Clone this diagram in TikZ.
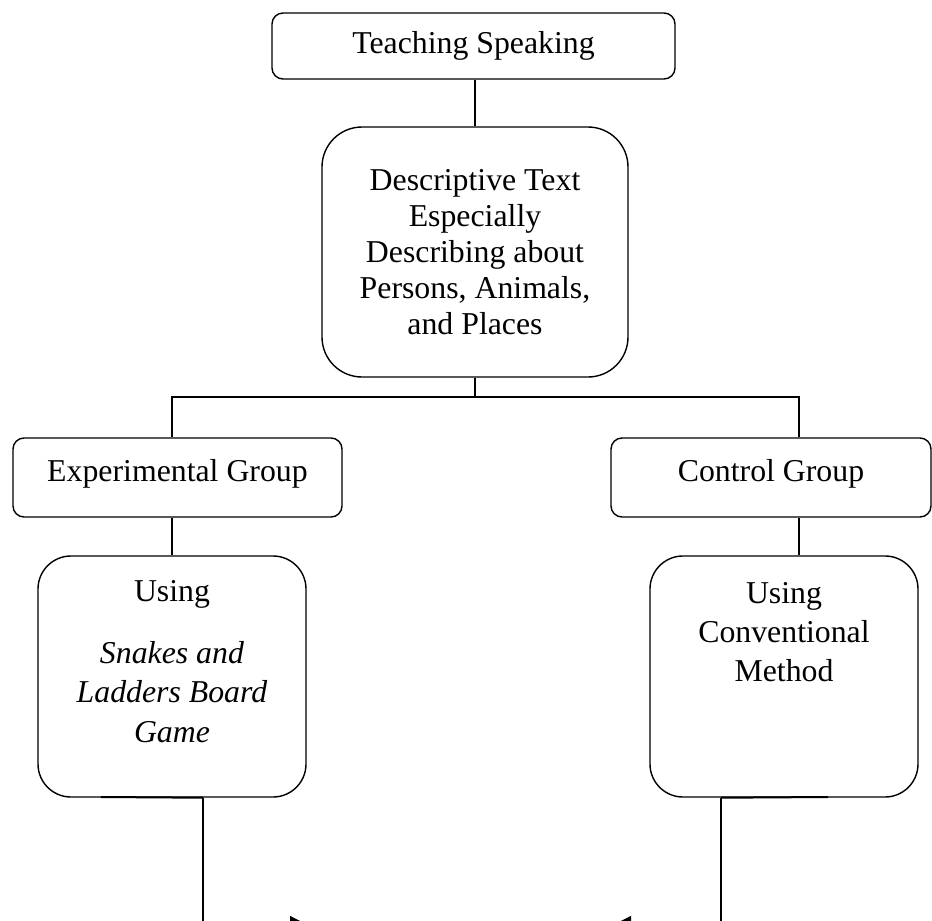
\documentclass[tikz,border=0pt]{standalone}
\usepackage{fontspec}
\setmainfont{Liberation Serif}
\usetikzlibrary{arrows.meta, positioning}

\begin{document}
\begin{tikzpicture}[x=1pt, y=-1pt, font=\fontsize{31.8}{36}\selectfont]
  % Styles for boxes and lines
  \tikzset{smallbox/.style={draw, line width=1.4pt, rounded corners=11pt, inner sep=0pt}}
  \tikzset{bigbox/.style={draw, line width=1.4pt, rounded corners=33pt, inner sep=0pt}}
  \tikzset{link/.style={draw, line width=1.2pt}}
  \tikzset{tip/.style={-{Triangle[length=18pt, width=18pt]}}}

  \useasboundingbox (0,0) rectangle (932,921);
  \clip (0,0) rectangle (932,921);

  % Top boxes
  \node[smallbox, minimum width=403pt, minimum height=66pt] (teach) at (473.5,46) {Teaching Speaking};
  \node[bigbox, rounded corners=40pt, minimum width=306pt, minimum height=250pt, align=center] (desc) at (475,252)
    {Descriptive Text\\Especially\\Describing about\\Persons, Animals,\\and Places};

  % Groups
  \node[smallbox, text depth=15pt, minimum width=329pt, minimum height=79pt] (expg) at (177.5,477.5) {Experimental Group};
  \node[smallbox, text depth=15pt, minimum width=320pt, minimum height=79pt] (ctrl) at (771,477.5) {Control Group};

  % Methods
  \node[bigbox, minimum width=268pt, minimum height=241pt] (lbox) at (172,676.5) {};
  \node[bigbox, minimum width=268pt, minimum height=241pt] (rbox) at (784,676.5) {};
  \node[below=25pt of lbox.north, align=center, inner sep=0pt, font=\fontsize{31.8}{39.5}\selectfont] (ltext)
    {Using\\[22pt]\textit{Snakes and}\\\textit{Ladders Board}\\\textit{Game}};
  \node[below=27pt of rbox.north, align=center, inner sep=0pt, font=\fontsize{31.8}{39}\selectfont] (rtext)
    {Using\\Conventional\\Method};

  % Connectors
  \coordinate (jn) at (475,397);
  \coordinate (rcol) at (799,397);
  \draw[link] (desc.north |- teach.south) -- (desc.north);
  \draw[link] (desc.south) -- (jn);
  \draw[link] (jn) -| (lbox.north |- expg.north);
  \draw[link] (jn) -- (rcol) -- (rcol |- ctrl.north);
  \draw[link] (expg.south -| lbox.north) -- (lbox.north);
  \draw[link] (ctrl.south -| rcol) -- (rcol |- rbox.north);

  % Arrows at the bottom
  \coordinate (lend) at (203,925);
  \coordinate (ltip) at (308,925);
  \coordinate (rend) at (721,925);
  \coordinate (rtip) at (613,925);
  \draw[link, line width=2pt] (101,797) -- (lbox.south -| lend);
  \draw[link, line width=2pt] (rbox.south -| rend) -- (828,797);
  \draw[link, tip] (lbox.south -| lend) -- (lend) -- (ltip);
  \draw[link, tip] (rbox.south -| rend) -- (rend) -- (rtip);
\end{tikzpicture}
\end{document}
